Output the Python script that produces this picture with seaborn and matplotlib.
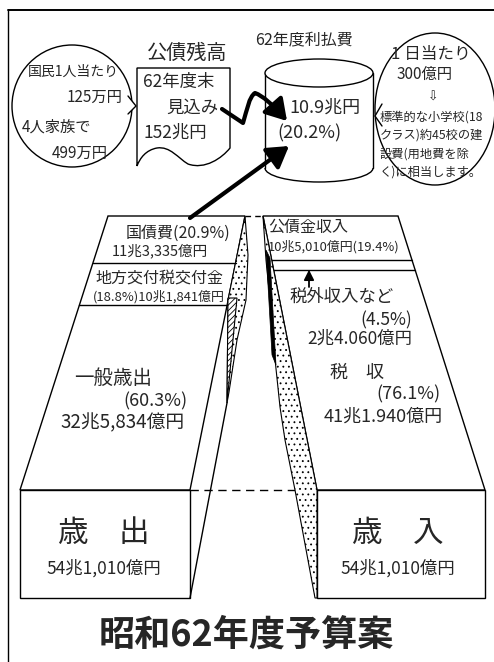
import numpy as np
import matplotlib
matplotlib.use("Agg")
import matplotlib.pyplot as plt
import seaborn as sns
from matplotlib.patches import Polygon, Rectangle, Ellipse, FancyArrowPatch, PathPatch, Arc
from matplotlib.path import Path

# ---------------- data ----------------
exp_items = ["国債費", "地方交付税交付金", "一般歳出"]
exp_pct = [20.9, 18.8, 60.3]
exp_amount = ["11兆3,335億円", "10兆1,841億円", "32兆5,834億円"]

rev_items = ["公債金収入", "税外収入など", "税　収"]
rev_pct = [19.4, 4.5, 76.1]
rev_amount = ["10兆5,010億円", "2兆4.060億円", "41兆1.940億円"]

total_label = "54兆1,010億円"
exp_title = "歳　出"
rev_title = "歳　入"
title = "昭和62年度予算案"

debt_title = "公債残高"
debt_lines = ["62年度末", "見込み", "152兆円"]
per_person_lines = ["国民1人当たり", "125万円", "4人家族で", "499万円"]
interest_title = "62年度利払費"
interest_value = "10.9兆円"
interest_pct = 20.2
per_day_lines = ["1 日当たり", "300億円", "⇩", "標準的な小学校(18", "クラス)約45校の建", "設費(用地費を除", "く)に相当します。"]

# ---------------- style ----------------
sns.set_theme(style="white")
plt.rcParams["font.family"] = ["Noto Sans CJK JP", "DejaVu Sans"]
plt.rcParams["hatch.linewidth"] = 0.6

fig = plt.figure(figsize=(4.94, 6.62), dpi=100)
ax = fig.add_axes([0, 0, 1, 1])
ax.set_xlim(0, 494)
ax.set_ylim(662, 0)
ax.axis("off")

K = "black"
LW = 1.0
PX_PER_PCT = 2.25
COL_TOP = 216
BOX_TOP, BOX_BOT = 490, 598


def edge_x(p0, p1, y):
    (x0, y0), (x1, y1) = p0, p1
    return x0 + (x1 - x0) * (y - y0) / (y1 - y0)


# frame
ax.plot([8, 494], [10, 10], color=K, lw=1.4)
ax.plot([8, 8], [10, 662], color=K, lw=1.0)

# ---------------- left (expenditure) ----------------
L_left = ((108, COL_TOP), (20, BOX_TOP))
L_right = ((245, COL_TOP), (190, BOX_TOP))
ax.add_patch(Polygon([L_left[0], L_right[0], L_right[1], L_left[1]], closed=True,
                     fc="white", ec=K, lw=LW, zorder=2))
ax.add_patch(Rectangle((20, BOX_TOP), 170, BOX_BOT - BOX_TOP, fc="white", ec=K, lw=LW, zorder=2))
# side ribbon
dotted_L = [(245, 216), (248, 255), (246, 300), (237, 340), (229, 392), (227, 403),
            (228, 300)]
ax.add_patch(Polygon(dotted_L, closed=True, fc="white", ec=K, lw=0.8, hatch="...", zorder=2))
ax.add_patch(Polygon([(228, 298), (237, 298), (232, 350), (227, 403)], closed=True,
                     fc="white", ec=K, lw=0.8, hatch="//////", zorder=3))
ax.plot([227, 190], [403, BOX_BOT], color=K, lw=LW, zorder=3)

cum = COL_TOP
divs_L = []
for p in exp_pct[:-1]:
    cum += p * PX_PER_PCT
    divs_L.append(cum)
    ax.plot([edge_x(*L_left, cum), edge_x(*L_right, cum)], [cum, cum], color=K, lw=LW, zorder=3)

ax.text(178, 233, f"{exp_items[0]}({exp_pct[0]}%)", ha="center", va="center", fontsize=11.5, zorder=5)
ax.text(112, 251, exp_amount[0], ha="left", va="center", fontsize=10.5, zorder=5)
ax.text(159, 279, exp_items[1], ha="center", va="center", fontsize=11.5, zorder=5)
ax.text(159, 297, f"({exp_pct[1]}%){exp_amount[1]}", ha="center", va="center", fontsize=9.3, zorder=5)
ax.text(74, 378, exp_items[2], ha="left", va="center", fontsize=14, zorder=5)
ax.text(187, 401, f"({exp_pct[2]}%)", ha="right", va="center", fontsize=13, zorder=5)
ax.text(60, 423, exp_amount[2], ha="left", va="center", fontsize=13.5, zorder=5)
ax.text(104, 533, exp_title, ha="center", va="center", fontsize=22, zorder=5)
ax.text(104, 568, total_label, ha="center", va="center", fontsize=12.5, zorder=5)

# ---------------- right (revenue) ----------------
R_left = ((263, COL_TOP), (317, BOX_TOP))
R_right = ((398, COL_TOP), (485, BOX_TOP))
ax.add_patch(Polygon([R_left[0], R_right[0], R_right[1], R_left[1]], closed=True,
                     fc="white", ec=K, lw=LW, zorder=2))
ax.add_patch(Rectangle((317, BOX_TOP), 168, BOX_BOT - BOX_TOP, fc="white", ec=K, lw=LW, zorder=2))
dotted_R = [(263, 216), (266, 260), (270, 300), (273, 340), (280, 407), (285, 440),
            (295, 490), (315, 598), (317, 598), (317, 490)]
ax.add_patch(Polygon(dotted_R, closed=True, fc="white", ec=K, lw=0.8, hatch="...", zorder=2))
ax.add_patch(Polygon([(266, 250), (270, 258), (276, 365), (272, 355)], closed=True,
                     fc=K, ec=K, lw=0.5, zorder=3))

cum = COL_TOP
divs_R = []
for p in rev_pct[:-1]:
    cum += p * PX_PER_PCT
    divs_R.append(cum)
    ax.plot([edge_x(*R_left, cum), edge_x(*R_right, cum)], [cum, cum], color=K, lw=LW, zorder=3)

ax.annotate("", xy=(309, divs_R[1]), xytext=(309, 287),
            arrowprops=dict(arrowstyle="-|>,head_length=0.5,head_width=0.25", color=K, lw=1.3,
                            shrinkA=0, shrinkB=0), zorder=6)

ax.text(268, 227, rev_items[0], ha="left", va="center", fontsize=11.5, zorder=5)
ax.text(268, 247, f"{rev_amount[0]}({rev_pct[0]}%)", ha="left", va="center", fontsize=9.3, zorder=5)
ax.text(290, 297, rev_items[1], ha="left", va="center", fontsize=12.5, zorder=5)
ax.text(412, 320, f"({rev_pct[1]}%)", ha="right", va="center", fontsize=12.5, zorder=5)
ax.text(412, 339, rev_amount[1], ha="right", va="center", fontsize=12.5, zorder=5)
ax.text(357, 373, rev_items[2], ha="center", va="center", fontsize=13, zorder=5)
ax.text(440, 394, f"({rev_pct[2]}%)", ha="right", va="center", fontsize=13, zorder=5)
ax.text(443, 417, rev_amount[2], ha="right", va="center", fontsize=13, zorder=5)
ax.text(398, 533, rev_title, ha="center", va="center", fontsize=22, zorder=5)
ax.text(398, 568, total_label, ha="center", va="center", fontsize=12.5, zorder=5)

# dashed connectors
ax.plot([190, 317], [BOX_TOP, BOX_TOP], color=K, lw=LW, ls=(0, (6, 4)), zorder=1)
ax.plot([245, 263], [COL_TOP, COL_TOP], color=K, lw=LW, ls=(0, (4, 3)), zorder=1)

# title
ax.text(246, 635, title, ha="center", va="center", fontsize=26, fontweight="bold", zorder=5)

# ---------------- top: per-person bubble ----------------
ax.add_patch(Ellipse((72, 106), 120, 122, fc="white", ec=K, lw=LW, zorder=2))
ax.add_patch(Polygon([(128, 96), (136, 106), (128, 114)], closed=True, fc="white", ec="none", zorder=3))
ax.plot([128, 136, 128], [96, 106, 114], color=K, lw=LW, zorder=3)
ax.text(28, 72, per_person_lines[0], ha="left", va="center", fontsize=10, zorder=5)
ax.text(122, 97, per_person_lines[1], ha="right", va="center", fontsize=11, zorder=5)
ax.text(22, 127, per_person_lines[2], ha="left", va="center", fontsize=11, zorder=5)
ax.text(108, 153, per_person_lines[3], ha="right", va="center", fontsize=11, zorder=5)

# debt balance callout
ax.text(187, 53, debt_title, ha="center", va="center", fontsize=14.5, zorder=5)
verts = [(137, 68), (230, 68), (230, 148),
         (222, 158), (205, 170), (188, 164),
         (178, 158), (170, 146), (157, 148),
         (146, 150), (140, 158), (137, 166),
         (137, 68)]
codes = [Path.MOVETO, Path.LINETO, Path.LINETO,
         Path.CURVE4, Path.CURVE4, Path.CURVE4,
         Path.CURVE4, Path.CURVE4, Path.CURVE4,
         Path.CURVE4, Path.CURVE4, Path.CURVE4,
         Path.CLOSEPOLY]
ax.add_patch(PathPatch(Path(verts, codes), fc="white", ec=K, lw=LW, zorder=2))
ax.text(143, 82, debt_lines[0], ha="left", va="center", fontsize=12.5, zorder=5)
ax.text(218, 108, debt_lines[1], ha="right", va="center", fontsize=12.5, zorder=5)
ax.text(143, 133, debt_lines[2], ha="left", va="center", fontsize=12.5, zorder=5)

# ---------------- cylinder ----------------
cx, cw = 319, 108
ytop, ybot, eh = 73, 168, 28
ax.add_patch(Rectangle((cx - cw / 2, ytop), cw, ybot - ytop, fc="white", ec="none", zorder=2))
ax.add_patch(Arc((cx, ybot), cw, eh, theta1=0, theta2=180, color=K, lw=LW, zorder=3))
ax.plot([cx - cw / 2, cx - cw / 2], [ytop, ybot], color=K, lw=LW, zorder=3)
ax.plot([cx + cw / 2, cx + cw / 2], [ytop, ybot], color=K, lw=LW, zorder=3)
ax.add_patch(Ellipse((cx, ytop), cw, eh, fc="white", ec=K, lw=LW, zorder=3))
ax.text(304, 40, interest_title, ha="center", va="center", fontsize=11.5, zorder=5)
ax.text(325, 108, interest_value, ha="center", va="center", fontsize=13, zorder=5)
ax.text(309, 133, f"({interest_pct}%)", ha="center", va="center", fontsize=13, zorder=5)

# ---------------- right bubble ----------------
ax.add_patch(Ellipse((435, 109), 120, 152, fc="white", ec=K, lw=LW, zorder=2))
ax.add_patch(Polygon([(382, 104), (375, 116), (382, 126)], closed=True, fc="white", ec="none", zorder=3))
ax.plot([382, 375, 382], [104, 116, 126], color=K, lw=LW, zorder=3)
ax.text(431, 55, per_day_lines[0], ha="center", va="center", fontsize=12, zorder=5)
ax.text(425, 74, per_day_lines[1], ha="center", va="center", fontsize=11, zorder=5)
ax.text(433, 97, per_day_lines[2], ha="center", va="center", fontsize=9, zorder=5,
        family=["DejaVu Sans"])
for i, s in enumerate(per_day_lines[3:]):
    ax.text(380, 117 + i * 18.3, s, ha="left", va="center", fontsize=8.8, zorder=5)

# ---------------- arrows ----------------
wv = [(222, 109), (243, 123), (247, 110), (249, 97), (255, 93),
      (263, 96), (272, 104), (287, 121)]
wc = [Path.MOVETO, Path.LINETO, Path.CURVE4, Path.CURVE4, Path.CURVE4,
      Path.CURVE4, Path.CURVE4, Path.CURVE4]
ax.add_patch(FancyArrowPatch(path=Path(wv, wc), arrowstyle="-|>,head_length=0.9,head_width=0.55",
                             mutation_scale=14, color=K, lw=3, zorder=6))
ax.add_patch(FancyArrowPatch((190, 218), (289, 146), arrowstyle="-|>,head_length=0.9,head_width=0.55",
                             mutation_scale=14, color=K, lw=3, shrinkA=0, shrinkB=0, zorder=6))

fig.savefig("out.png", dpi=100, facecolor="white")
